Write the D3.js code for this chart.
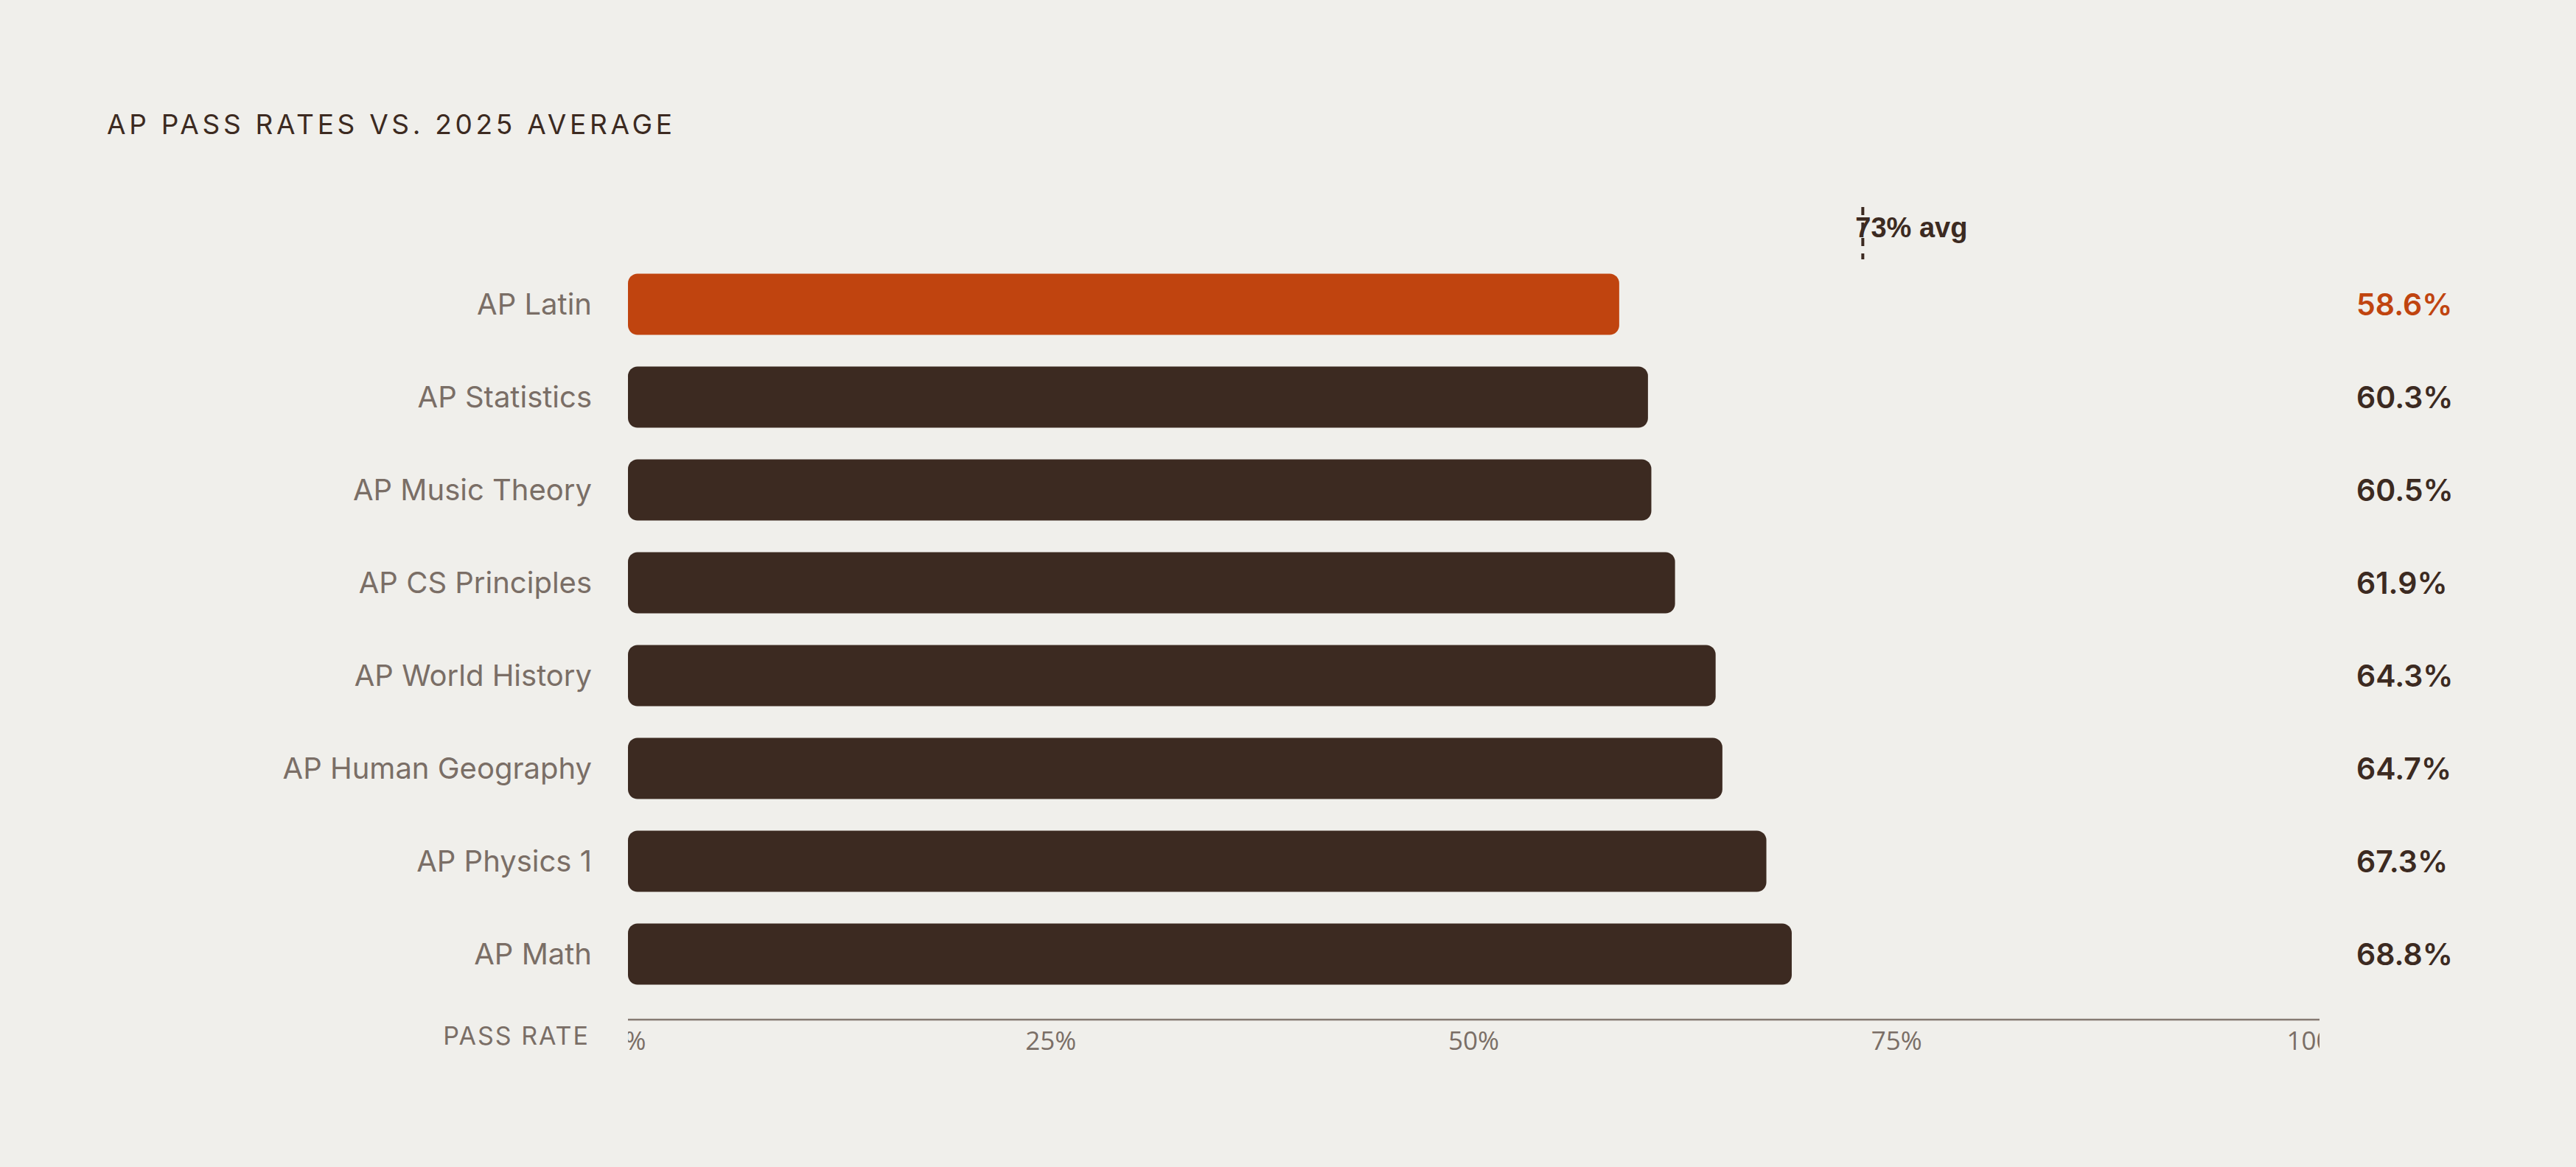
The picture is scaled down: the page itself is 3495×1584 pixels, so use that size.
<!DOCTYPE html>
<html>
<head>
<meta charset="utf-8">
<script src="https://cdn.jsdelivr.net/npm/d3@7"></script>
<style>
  html, body { margin: 0; padding: 0; background: #f0efeb; }
  svg { display: block; }
</style>
</head>
<body>
<div id="chart"></div>
<script>
const subjects = ['AP Latin', 'AP Statistics', 'AP Music Theory', 'AP CS Principles',
  'AP World History', 'AP Human Geography', 'AP Physics 1', 'AP Math'];
const passRates = [58.6, 60.3, 60.5, 61.9, 64.3, 64.7, 67.3, 68.8];
const highlight = 'AP Latin';
const average = 73;
const xTicks = [0, 25, 50, 75, 100];

const width = 3495, height = 1584;
const margin = { top: 350, right: 348, bottom: 226, left: 852 };

const data = subjects.map((s, i) => ({ subject: s, rate: passRates[i] }));

const svg = d3.select('#chart')
  .append('svg')
  .attr('width', width)
  .attr('height', height);

svg.append('rect')
  .attr('width', width)
  .attr('height', height)
  .attr('fill', '#f0efeb');

const x = d3.scaleLinear()
  .domain([0, 100])
  .range([margin.left, width - margin.right]);

const y = d3.scaleBand()
  .domain(subjects)
  .range([margin.top, height - margin.bottom])
  .paddingInner(0.34)
  .paddingOuter(0.17);

// title
svg.append('text')
  .attr('x', 145)
  .attr('y', 182)
  .attr('fill', '#3c2a21')
  .style('font-family', 'Inter, sans-serif')
  .style('font-size', '37px')
  .style('font-weight', 400)
  .style('letter-spacing', '4.7px')
  .text('AP PASS RATES VS. 2025 AVERAGE');

// bars
svg.append('g')
  .attr('class', 'bars')
  .selectAll('rect')
  .data(data)
  .enter().append('rect')
  .attr('x', x(0))
  .attr('y', d => y(d.subject))
  .attr('width', d => x(d.rate) - x(0))
  .attr('height', y.bandwidth())
  .attr('rx', 13)
  .attr('fill', d => d.subject === highlight ? '#c0440f' : '#3c2a21');

// category labels
svg.append('g')
  .attr('class', 'labels')
  .selectAll('text')
  .data(data)
  .enter().append('text')
  .attr('x', 803)
  .attr('y', d => y(d.subject) + y.bandwidth() / 2)
  .attr('dy', '0.35em')
  .attr('text-anchor', 'end')
  .attr('fill', '#7a6e66')
  .style('font-family', 'Inter, sans-serif')
  .style('font-size', '40px')
  .text(d => d.subject);

// value labels
svg.append('g')
  .attr('class', 'values')
  .selectAll('text')
  .data(data)
  .enter().append('text')
  .attr('x', 3197)
  .attr('y', d => y(d.subject) + y.bandwidth() / 2)
  .attr('dy', '0.36em')
  .attr('fill', d => d.subject === highlight ? '#c0440f' : '#3c2a21')
  .style('font-family', 'Inter, sans-serif')
  .style('font-size', '41px')
  .style('font-weight', 600)
  .text(d => d.rate.toFixed(1) + '%');

// average marker
svg.append('line')
  .attr('x1', x(average))
  .attr('x2', x(average))
  .attr('y1', 281)
  .attr('y2', 352)
  .attr('stroke', '#3c2a21')
  .attr('stroke-width', 4)
  .attr('stroke-dasharray', '11,10');

svg.append('text')
  .attr('x', x(average) - 10)
  .attr('y', 322)
  .attr('fill', '#3c2a21')
  .style('font-family', '"Liberation Sans", Arial, sans-serif')
  .style('font-size', '38px')
  .style('font-weight', 700)
  .text(average + '% avg');

// x axis
const axisY = 1384;
svg.append('defs').append('clipPath')
  .attr('id', 'plot-clip')
  .append('rect')
  .attr('x', x(0))
  .attr('y', 0)
  .attr('width', x(100) - x(0))
  .attr('height', height);

svg.append('line')
  .attr('x1', x(0))
  .attr('x2', x(100))
  .attr('y1', axisY)
  .attr('y2', axisY)
  .attr('stroke', '#857a72')
  .attr('stroke-width', 2.5);

svg.append('g')
  .attr('class', 'ticks')
  .attr('clip-path', 'url(#plot-clip)')
  .selectAll('text')
  .data(xTicks)
  .enter().append('text')
  .attr('x', d => x(d))
  .attr('y', 1425)
  .attr('text-anchor', 'middle')
  .attr('fill', '#7a6e66')
  .style('font-family', '"Open Sans", sans-serif')
  .style('font-size', '35px')
  .text(d => d + '%');

svg.append('text')
  .attr('x', 800)
  .attr('y', 1418)
  .attr('text-anchor', 'end')
  .attr('fill', '#7a6e66')
  .style('font-family', 'Inter, sans-serif')
  .style('font-size', '34px')
  .style('letter-spacing', '2px')
  .text('PASS RATE');
</script>
</body>
</html>
